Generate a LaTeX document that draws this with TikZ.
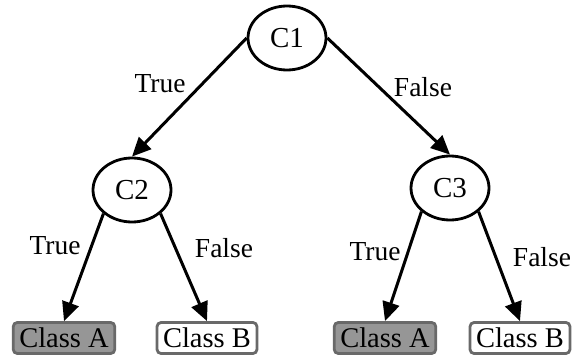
\documentclass[tikz,border=0pt]{standalone}
\usepackage{fontspec}
\setmainfont{Liberation Serif}
\usetikzlibrary{arrows.meta, shapes.geometric}
\definecolor{leafgray}{RGB}{150,150,150}
\definecolor{edgegray}{RGB}{105,105,105}

\begin{document}
\begin{tikzpicture}[x=1pt, y=-1pt,
  test/.style={draw, ellipse, line width=2.8pt, minimum width=78pt, minimum height=64pt,
               inner sep=0pt, font=\fontsize{29}{31}\selectfont},
  leaf/.style={draw=edgegray, rounded corners=4pt, line width=2.8pt, fill=white,
               minimum height=31pt, inner xsep=6pt, inner ysep=0pt,
               font=\fontsize{28.5}{30}\selectfont},
  hit/.style={leaf, fill=leafgray},
  lbl/.style={font=\fontsize{27.5}{30}\selectfont},
  arr/.style={-{Triangle[length=19pt, width=17pt]}, line width=3pt}]
  \useasboundingbox (0,0) rectangle (578,359);
  \node[test] (c1) at (287,38)  {C1};
  \node[test] (c2) at (132,190) {C2};
  \node[test] (c3) at (450,188) {C3};
  \node[hit]  (a1) at (64,338)  {Class A};
  \node[leaf] (b1) at (207,338) {Class B};
  \node[hit]  (a2) at (385,338) {Class A};
  \node[leaf] (b2) at (520,338) {Class B};
  \node[lbl] (t1) at (160,84)  {True};
  \node[lbl] (f1) at (423,87)  {False};
  \node[lbl] (t2) at (55,246)  {True};
  \node[lbl] (f2) at (224,248) {False};
  \node[lbl] (t3) at (375,252) {True};
  \node[lbl] (f3) at (542,257) {False};
  \draw[arr] (c1.west) -- (c2.north);
  \draw[arr] (c1.east) -- (c3.north);
  \draw[arr] (c2.south west) -- (a1.north);
  \draw[arr] (c2.south east) -- (b1.north);
  \draw[arr] (c3.south west) -- (a2.north);
  \draw[arr] (c3.south east) -- (b2.north);
\end{tikzpicture}
\end{document}
